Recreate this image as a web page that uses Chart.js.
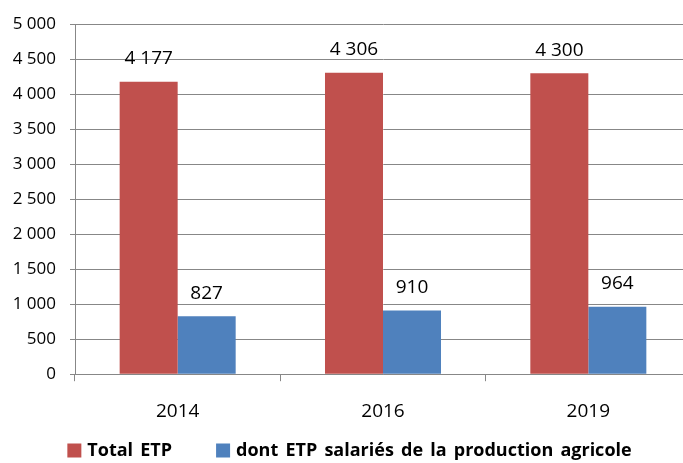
<!DOCTYPE html>
<html>
<head>
<meta charset="utf-8">
<script src="https://cdn.jsdelivr.net/npm/chart.js@4/dist/chart.umd.min.js"></script>
<style>
html,body{margin:0;padding:0;overflow:hidden;background:#fff;}
#c{display:block;}
</style>
</head>
<body>
<canvas id="c" width="691" height="463" style="width:691px;height:463px"></canvas>
<script>
const categories = ['2014', '2016', '2019'];
const totalEtp = [4177, 4306, 4300];
const salariesEtp = [827, 910, 964];
const seriesNames = ['Total ETP', 'dont ETP salariés de la production agricole'];

const FONT = '"Open Sans", "Liberation Sans", sans-serif';
const fmt = v => {
  const s = String(Math.round(v));
  return s.replace(/\B(?=(\d{3})+(?!\d))/g, ' ');
};

const valueLabels = {
  id: 'valueLabels',
  afterDatasetsDraw(chart) {
    const ctx = chart.ctx;
    ctx.save();
    ctx.font = '19px ' + FONT;
    ctx.fillStyle = '#000';
    ctx.textAlign = 'center';
    ctx.textBaseline = 'middle';
    chart.data.datasets.forEach((ds, i) => {
      const meta = chart.getDatasetMeta(i);
      meta.data.forEach((el, j) => {
        ctx.fillText(fmt(ds.data[j]), el.x, el.y - 23);
      });
    });
    ctx.restore();
  }
};

const customLegend = {
  id: 'customLegend',
  afterDraw(chart) {
    const ctx = chart.ctx;
    ctx.save();
    ctx.font = 'bold 18px ' + FONT;
    ctx.wordSpacing = '2.5px';
    ctx.textBaseline = 'middle';
    ctx.textAlign = 'left';
    const box = 14, boxGap = 6, itemGap = 44;
    const items = chart.data.datasets.map(ds => ({ text: ds.label, color: ds.backgroundColor, w: ctx.measureText(ds.label).width }));
    const total = items.reduce((s, it) => s + box + boxGap + it.w, 0) + itemGap * (items.length - 1);
    let x = 349.5 - total / 2;
    const yc = 451;
    items.forEach(it => {
      ctx.fillStyle = it.color;
      ctx.fillRect(x, yc - box / 2 - 0.5, box, box);
      ctx.fillStyle = '#000';
      ctx.fillText(it.text, x + box + boxGap, yc);
      x += box + boxGap + it.w + itemGap;
    });
    ctx.restore();
  }
};

new Chart(document.getElementById('c'), {
  type: 'bar',
  data: {
    labels: categories,
    datasets: [
      { label: seriesNames[0], data: totalEtp, backgroundColor: '#C0504D', borderColor: '#C0504D', borderWidth: 0 },
      { label: seriesNames[1], data: salariesEtp, backgroundColor: '#4F81BD', borderColor: '#4F81BD', borderWidth: 0 }
    ]
  },
  options: {
    responsive: false,
    animation: false,
    devicePixelRatio: 1,
    layout: { padding: { top: 20, left: 0, right: 0, bottom: 21 } },
    datasets: { bar: { categoryPercentage: 0.565, barPercentage: 1 } },
    scales: {
      x: {
        grid: { display: true, drawOnChartArea: false, drawTicks: true, tickLength: 7, color: '#878787', offset: true },
        border: { display: true, color: '#878787', width: 1 },
        ticks: { font: { family: FONT, size: 19 }, color: '#000', padding: 19 }
      },
      y: {
        min: 0, max: 5000,
        afterFit(scale) { scale.width = 75; },
        grid: { color: '#878787', tickLength: 5 },
        border: { display: true, color: '#878787', width: 1 },
        ticks: { stepSize: 500, font: { family: FONT, size: 17 }, color: '#000', padding: 14, callback: v => fmt(v) }
      }
    },
    plugins: {
      legend: { display: false },
      tooltip: { enabled: false }
    }
  },
  plugins: [valueLabels, customLegend]
});
</script>
</body>
</html>
